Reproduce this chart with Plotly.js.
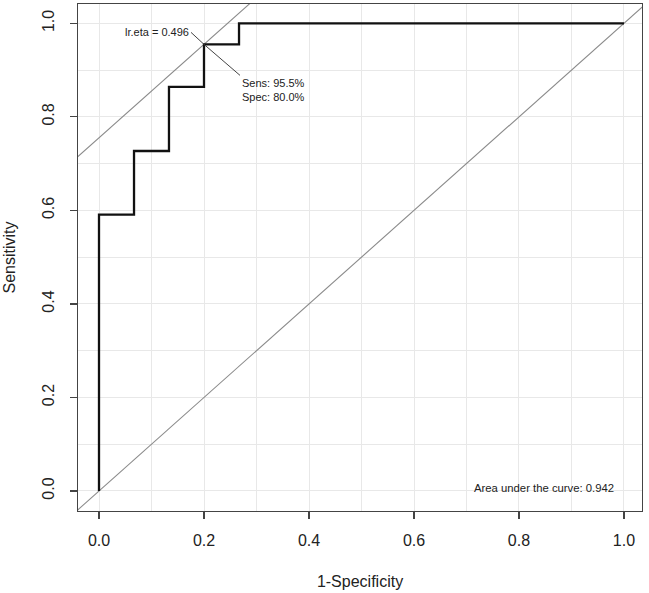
<!DOCTYPE html>
<html>
<head>
<meta charset="utf-8">
<script src="https://cdn.plot.ly/plotly-3.0.1.min.js"></script>
<style>html,body{margin:0;padding:0;background:#fff;}#chart{width:649px;height:593px;}</style>
</head>
<body>
<div id="chart"></div>
<script>
// ROC curve (1-Specificity, Sensitivity) step points
var fpr  = [0, 0, 0.0667, 0.0667, 0.1333, 0.1333, 0.2, 0.2, 0.2667, 0.2667, 1.0];
var sens = [0, 0.591, 0.591, 0.727, 0.727, 0.864, 0.864, 0.955, 0.955, 1.0, 1.0];
// optimal cutoff
var cutFpr = [0.2];
var cutSens = [0.955];
var cutLabel = "lr.eta = 0.496";
var cutStats = "Sens: 95.5%<br>Spec: 80.0%";
var aucLabel = "Area under the curve: 0.942";
// reference line extent (chance diagonal, drawn across the whole panel)
var refExtent = [-0.1, 1.1];
// tick values
var tickVals = [0, 0.2, 0.4, 0.6, 0.8, 1.0];
var tickText = ["0.0", "0.2", "0.4", "0.6", "0.8", "1.0"];

var tangentIntercept = cutSens[0] - cutFpr[0];
var tangentY = refExtent.map(function(v){ return v + tangentIntercept; });

var font = "Liberation Sans, Arial, sans-serif";
var traces = [
  {x: refExtent, y: refExtent, mode: "lines", line: {color: "#8a8a8a", width: 1.1}, hoverinfo: "skip", showlegend: false},
  {x: refExtent, y: tangentY, mode: "lines", line: {color: "#8a8a8a", width: 1.1}, hoverinfo: "skip", showlegend: false},
  {x: fpr, y: sens, mode: "lines", line: {color: "#111", width: 2.3, shape: "linear"}, showlegend: false}
];

var axisCommon = {
  showline: true, mirror: true, linecolor: "#444", linewidth: 1.3,
  ticks: "outside", ticklen: 7, tickwidth: 1.2, tickcolor: "#444",
  tickvals: tickVals, ticktext: tickText,
  tickfont: {family: font, size: 16, color: "#222"},
  showgrid: true, gridcolor: "#e8e8e8", gridwidth: 1,
  minor: {dtick: 0.1, showgrid: true, gridcolor: "#e8e8e8", gridwidth: 1, ticks: ""},
  zeroline: false, automargin: false
};

var layout = {
  width: 649, height: 593,
  margin: {l: 78, r: 7, t: 4, b: 82},
  paper_bgcolor: "#fff", plot_bgcolor: "#fff",
  font: {family: font, color: "#222"},
  xaxis: Object.assign({}, axisCommon, {
    range: [-0.04, 1.0343],
    ticklabelstandoff: 7,
    title: {text: "1-Specificity", font: {family: font, size: 16, color: "#222"}, standoff: 28}
  }),
  yaxis: Object.assign({}, axisCommon, {
    range: [-0.0428, 1.0413],
    tickangle: -90,
    ticklabelstandoff: 9,
    title: {text: "Sensitivity", font: {family: font, size: 16, color: "#222"}, standoff: 20}
  }),
  annotations: [
    {x: cutFpr[0], y: cutSens[0], xref: "x", yref: "y", text: cutLabel,
     showarrow: true, arrowhead: 0, arrowwidth: 1, arrowcolor: "#444",
     ax: -13, ay: -12, xanchor: "right", yanchor: "middle", standoff: 0,
     font: {family: font, size: 11, color: "#222"}},
    {x: cutFpr[0], y: cutSens[0], xref: "x", yref: "y", text: cutStats, align: "left",
     showarrow: true, arrowhead: 0, arrowwidth: 1, arrowcolor: "#444",
     ax: 36, ay: 31, xanchor: "left", yanchor: "top", standoff: 0,
     font: {family: font, size: 11, color: "#222"}},
    {x: 0.985, y: 0.007, xref: "x", yref: "y", text: aucLabel, showarrow: false,
     xanchor: "right", yanchor: "middle",
     font: {family: font, size: 11.3, color: "#222"}}
  ]
};

Plotly.newPlot("chart", traces, layout, {staticPlot: true});
</script>
</body>
</html>
